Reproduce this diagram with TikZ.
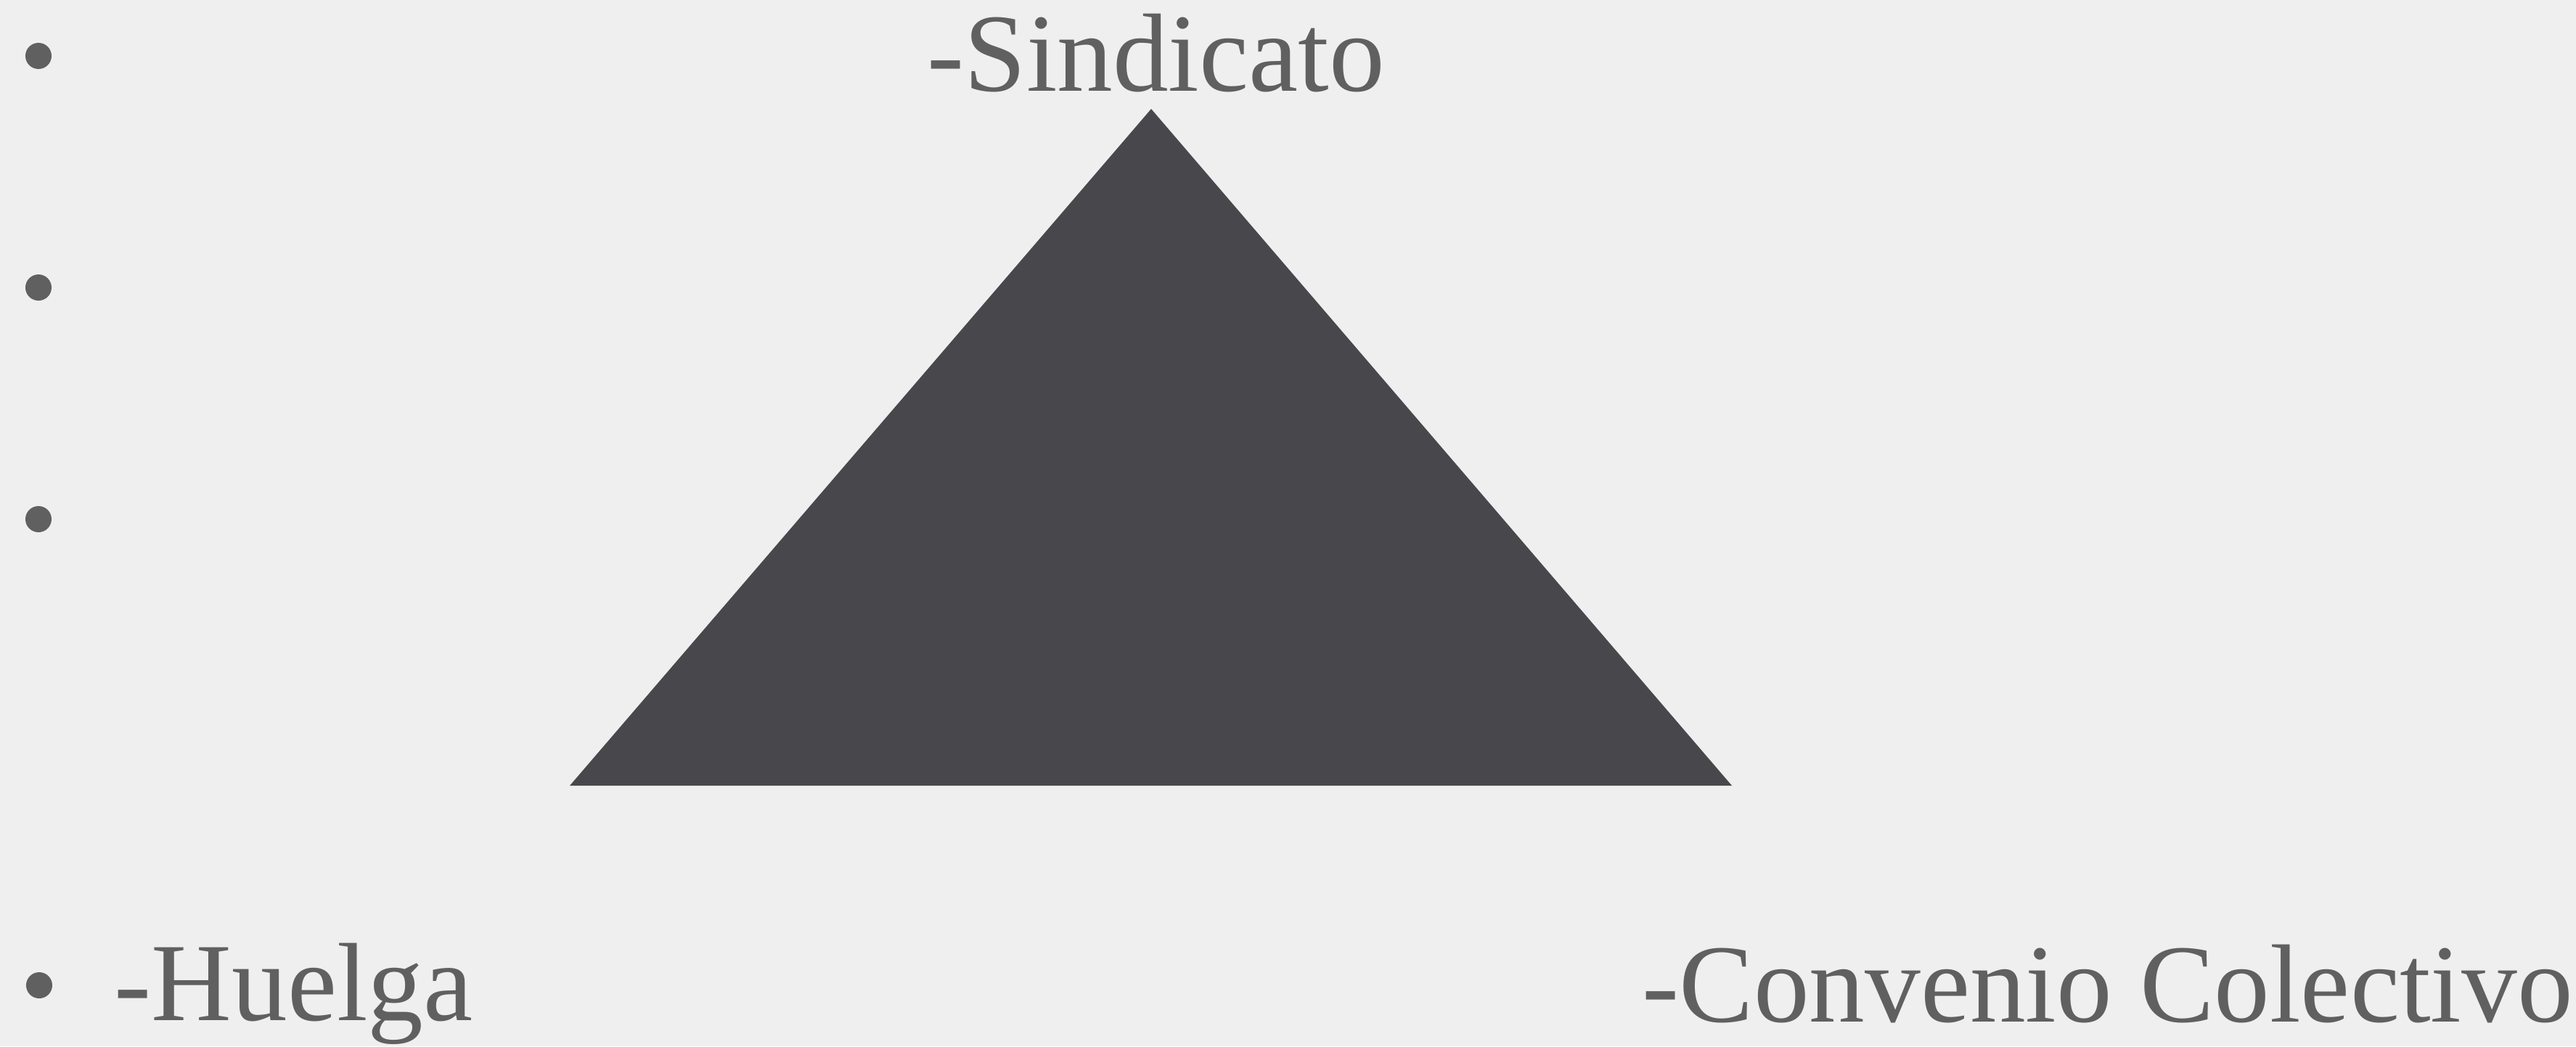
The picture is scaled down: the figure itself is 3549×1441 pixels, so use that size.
\documentclass[tikz,border=0pt]{standalone}
\usepackage{fontspec}
\setmainfont{Liberation Serif}
\definecolor{bg}{HTML}{EFEFEF}
\definecolor{ink}{HTML}{606060}
\definecolor{tri}{HTML}{48474C}
\begin{document}
\begin{tikzpicture}[x=0.01cm,y=-0.01cm,
  label/.style={anchor=base west, inner sep=0pt, text=ink, font=\fontsize{43.6pt}{50pt}\selectfont},
  bullet/.style={circle, fill=ink, minimum size=0.36cm, inner sep=0pt}]
\fill[bg] (0,0) rectangle (3549,1441);
\useasboundingbox (0,0) rectangle (3549,1441);
% bullets
\node[bullet] (b1) at (53,77) {};
\node[bullet] (b2) at (53,396) {};
\node[bullet] (b3) at (53,715) {};
\node[bullet] (b4) at (54,1357) {};
% triangle
\coordinate (apex) at (1586,150);
\coordinate (bl) at (785,1082);
\coordinate (br) at (2386,1082);
\fill[tri] (apex) -- (bl) -- (br) -- cycle;
% labels
\node[label] (sind) at (1277,125) {-Sindicato};
\node[label] (huelga) at (157,1405) {-Huelga};
\node[label] (conv) at (2262,1407) {-Convenio Colectivo};
\end{tikzpicture}
\end{document}
